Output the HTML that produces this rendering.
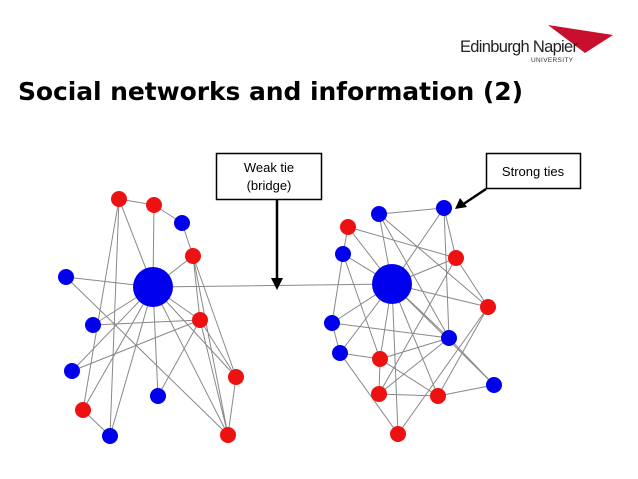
<!DOCTYPE html>
<html><head><meta charset="utf-8"><style>
body{margin:0;background:#fff;}
svg{display:block;font-family:"Liberation Sans",sans-serif;}
</style></head><body>
<svg width="638" height="479" viewBox="0 0 638 479" xmlns="http://www.w3.org/2000/svg">
<rect width="638" height="479" fill="#fff"/>
<polygon points="548,25 613,35 585,53" fill="#c8102e"/>
<text x="460" y="52" font-size="16.5" fill="#222" textLength="118">Edinburgh Napier</text>
<text x="531" y="62" font-size="6.5" fill="#333" textLength="42">UNIVERSITY</text>
<text x="18" y="100" font-size="25" font-weight="bold" fill="#000" textLength="505" font-family="'DejaVu Sans','Liberation Sans',sans-serif">Social networks and information (2)</text>
<g stroke="#888" stroke-width="1" fill="none">
<path d="M119,199L154,205M154,205L182,223M182,223L193,256M119,199L153,287M154,205L153,287M193,256L153,287M66,277L153,287M153,287L392,284M119,199L83,410M119,199L110,436M66,277L228,435M153,287L93,325M153,287L72,371M153,287L83,410M153,287L110,436M153,287L158,396M153,287L200,320M153,287L236,377M153,287L228,435M93,325L200,320M72,371L200,320M200,320L158,396M200,320L228,435M193,256L200,320M193,256L236,377M193,256L228,435M236,377L228,435M83,410L110,436M200,320L236,377"/>
<path d="M444,208L379,214M444,208L456,258M444,208L449,338M444,208L392,284M379,214L392,284M379,214L488,307M379,214L449,338M348,227L343,254M348,227L392,284M348,227L456,258M343,254L332,323M343,254L380,359M343,254L392,284M456,258L392,284M456,258L488,307M456,258L379,394M392,284L488,307M392,284L332,323M392,284L340,353M392,284L380,359M392,284L398,434M392,284L438,396M392,284L449,338M392,284L494,385M332,323L449,338M340,353L380,359M340,353L398,434M332,323L340,353M380,359L449,338M380,359L379,394M380,359L438,396M488,307L438,396M488,307L398,434M449,338L494,385M379,394L438,396M438,396L494,385M379,394L449,338"/>
</g>
<g fill="#0000ee">
<circle cx="153" cy="287" r="20"/><circle cx="392" cy="284" r="20"/>
<circle cx="182" cy="223" r="8"/><circle cx="66" cy="277" r="8"/><circle cx="93" cy="325" r="8"/><circle cx="72" cy="371" r="8"/><circle cx="158" cy="396" r="8"/><circle cx="110" cy="436" r="8"/>
<circle cx="444" cy="208" r="8"/><circle cx="379" cy="214" r="8"/><circle cx="343" cy="254" r="8"/><circle cx="332" cy="323" r="8"/><circle cx="449" cy="338" r="8"/><circle cx="340" cy="353" r="8"/><circle cx="494" cy="385" r="8"/>
</g>
<g fill="#ee1111">
<circle cx="119" cy="199" r="8"/><circle cx="154" cy="205" r="8"/><circle cx="193" cy="256" r="8"/><circle cx="200" cy="320" r="8"/><circle cx="236" cy="377" r="8"/><circle cx="83" cy="410" r="8"/><circle cx="228" cy="435" r="8"/>
<circle cx="348" cy="227" r="8"/><circle cx="456" cy="258" r="8"/><circle cx="488" cy="307" r="8"/><circle cx="380" cy="359" r="8"/><circle cx="379" cy="394" r="8"/><circle cx="438" cy="396" r="8"/><circle cx="398" cy="434" r="8"/>
</g>
<rect x="216.5" y="153.5" width="105" height="46" fill="#fff" stroke="#000" stroke-width="1.5"/>
<text x="269" y="172" font-size="13" text-anchor="middle">Weak tie</text>
<text x="269" y="190" font-size="13" text-anchor="middle">(bridge)</text>
<line x1="277" y1="200" x2="277" y2="280" stroke="#000" stroke-width="2.5"/>
<polygon points="271,278 283,278 277,290" fill="#000"/>
<rect x="486.5" y="153.5" width="94" height="35" fill="#fff" stroke="#000" stroke-width="1.5"/>
<text x="533" y="176" font-size="13" text-anchor="middle">Strong ties</text>
<line x1="486" y1="189" x2="462" y2="205" stroke="#000" stroke-width="2.5"/>
<polygon points="455,209 460,198 467,207" fill="#000"/>
</svg>
</body></html>
